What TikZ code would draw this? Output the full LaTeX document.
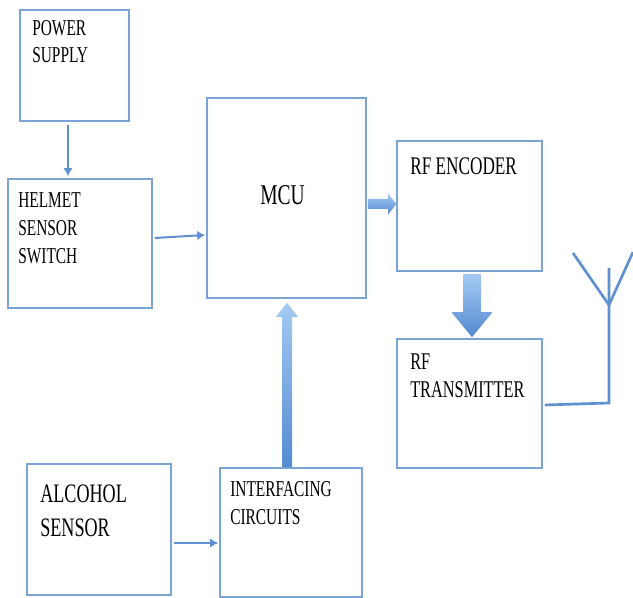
\documentclass[tikz,border=0pt]{standalone}
\usepackage{fontspec}
\setmainfont{Liberation Serif}[FakeStretch=0.68]
\usetikzlibrary{fit,calc,arrows.meta}
\definecolor{boxc}{RGB}{122,164,214}
\definecolor{arrc}{RGB}{95,145,208}
\definecolor{shlight}{RGB}{165,202,244}
\definecolor{shdark}{RGB}{84,138,208}
\begin{document}
\begin{tikzpicture}[x=0.75pt,y=-0.75pt,
  box/.style={draw=boxc,line width=1.2pt,inner sep=0pt,fit={#1}},
  lbl/.style={anchor=base west,inner sep=0pt,align=left,text=black},
  thinarrow/.style={draw=arrc,line width=1.5pt,-{Latex[length=6pt,width=7pt]}},
  blockarrow/.style={top color=shlight,bottom color=shdark,draw=none},
  ant/.style={draw=arrc,line width=2pt,line join=miter}]
\useasboundingbox (0,0) rectangle (633,598);
% boxes
\node[box={(20,10) (129,121)}] (ps) {};
\node[box={(8,179) (152,308)}] (hs) {};
\node[box={(207,98) (366,298)}] (mcu) {};
\node[box={(397,141) (542,271)}] (enc) {};
\node[box={(397,339) (542,468)}] (tx) {};
\node[box={(27,464) (171,595)}] (al) {};
\node[box={(220,468) (362,597)}] (ic) {};
% texts (anchor = baseline of the last line)
\node[lbl,font=\fontsize{17}{20.25}\selectfont] (tps) at (32,63) {POWER\\SUPPLY};
\node[lbl,font=\fontsize{17}{21}\selectfont] (ths) at (18,264) {HELMET\\SENSOR\\SWITCH};
\node[lbl,font=\fontsize{21.5}{24}\selectfont] (tmcu) at (260,205) {MCU};
\node[lbl,font=\fontsize{19}{21}\selectfont] (tenc) at (410,175) {RF ENCODER};
\node[lbl,font=\fontsize{18}{21}\selectfont] (ttx) at (410,398) {RF\\TRANSMITTER};
\node[lbl,font=\fontsize{20}{25.5}\selectfont] (tal) at (40,537) {ALCOHOL\\SENSOR};
\node[lbl,font=\fontsize{17}{21}\selectfont] (tic) at (230,525) {INTERFACING\\CIRCUITS};
% thin arrows
\draw[thinarrow] ($(ps.south)+(-6.5,3)$) -- ($(hs.north)+(-12,-2)$);
\draw[thinarrow] ($(hs.east)+(2,-5.5)$) -- ($(mcu.west)+(-1,37)$);
\draw[thinarrow] ($(al.east)+(2,13.5)$) -- ($(ic.west)+(-1,10.5)$);
% block arrows
\coordinate (b1s) at ($(mcu.east)+(1,6)$);
\coordinate (b1e) at ($(enc.west)+(0,-2)$);
\shade[blockarrow] ($(b1s)+(0,-5)$) -- ($(b1e)+(-8,-5)$) -- ($(b1e)+(-8,-10.5)$) -- (b1e)
  -- ($(b1e)+(-8,10.5)$) -- ($(b1e)+(-8,5)$) -- ($(b1s)+(0,5)$) -- cycle;
\coordinate (b2s) at ($(enc.south)+(2.5,2)$);
\coordinate (b2e) at ($(tx.north)+(2.5,-1)$);
\shade[blockarrow] ($(b2s)+(-9,0)$) -- ($(b2e)+(-9,-25)$) -- ($(b2e)+(-20.5,-25)$) -- (b2e)
  -- ($(b2e)+(20.5,-25)$) -- ($(b2e)+(9,-25)$) -- ($(b2s)+(9,0)$) -- cycle;
\coordinate (b3s) at ($(ic.north)+(-4,0)$);
\coordinate (b3e) at ($(mcu.south)+(0.5,4)$);
\shade[blockarrow] ($(b3s)+(-5,0)$) -- ($(b3e)+(-5,14)$) -- ($(b3e)+(-11,14)$) -- (b3e)
  -- ($(b3e)+(11,14)$) -- ($(b3e)+(5,14)$) -- ($(b3s)+(5,0)$) -- cycle;
% antenna
\coordinate (ant1) at ($(tx.east)+(2,1.5)$);
\coordinate (antb) at (609,403);
\coordinate (antv) at (609,305);
\coordinate (anttop) at (609,268);
\coordinate (antl) at (573,253);
\coordinate (antr) at (633,252);
\draw[ant] (ant1) -- (antb) -- (anttop);
\draw[ant] (antl) -- (antv) -- (antr);
\end{tikzpicture}
\end{document}
